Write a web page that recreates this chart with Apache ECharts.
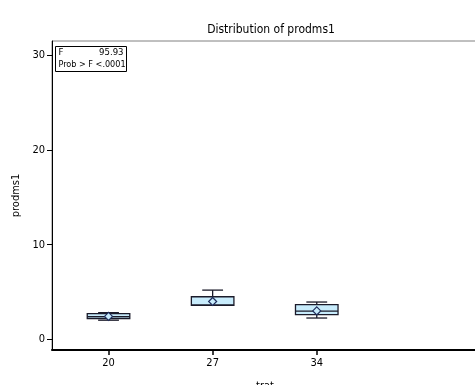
<!DOCTYPE html>
<html>
<head>
<meta charset="utf-8">
<script src="https://cdn.jsdelivr.net/npm/echarts@6/dist/echarts.min.js"></script>
<style>
  html, body { margin: 0; padding: 0; background: #fff; }
  #chart { width: 475px; height: 385px; }
</style>
</head>
<body>
<div id="chart"></div>
<script>
// values
const trat = [20, 27, 34];
const minV = [2.02, 3.6, 2.25];
const q1V = [2.2, 3.6, 2.6];
const medV = [2.4, 3.62, 2.98];
const q3V = [2.72, 4.5, 3.66];
const maxV = [2.82, 5.2, 3.94];
const meanV = [2.42, 4.0, 3.0];
const xTicks = [20, 27, 34];
const yTicks = [0, 10, 20, 30];

const font = "'Liberation Sans Narrow', 'Arial Narrow', 'DejaVu Sans Condensed', 'Liberation Sans', sans-serif";
const boxHalf = 1.43;
const capHalf = 0.7;

const chart = echarts.init(document.getElementById("chart"));

const boxData = trat.map((t, i) => [t, minV[i], q1V[i], medV[i], q3V[i], maxV[i], meanV[i]]);

const renderBox = (params, api) => {
  const x = api.value(0);
  const lineStyle = { stroke: "#1b1b2a", lineWidth: 1.3 };
  const p = (xx, yy) => api.coord([xx, yy]);
  const lo = p(x, api.value(1));
  const q1 = p(x - boxHalf, api.value(2));
  const q3 = p(x + boxHalf, api.value(4));
  const hi = p(x, api.value(5));
  const med = p(x, api.value(3));
  const mean = p(x, api.value(6));
  const capL = p(x - capHalf, 0)[0];
  const capR = p(x + capHalf, 0)[0];
  const d = 4;
  return {
    type: "group",
    children: [
      { type: "line", shape: { x1: lo[0], y1: lo[1], x2: hi[0], y2: hi[1] }, style: lineStyle },
      { type: "line", shape: { x1: capL, y1: hi[1], x2: capR, y2: hi[1] }, style: lineStyle },
      { type: "line", shape: { x1: capL, y1: lo[1], x2: capR, y2: lo[1] }, style: lineStyle },
      {
        type: "rect",
        shape: { x: q1[0], y: q3[1], width: q3[0] - q1[0], height: q1[1] - q3[1] },
        style: { fill: "#c8ecfc", stroke: "#1b1b2a", lineWidth: 1.3 },
      },
      { type: "line", shape: { x1: q1[0], y1: med[1], x2: q3[0], y2: med[1] }, style: lineStyle },
      {
        type: "polygon",
        shape: { points: [[mean[0], mean[1] - d], [mean[0] + d, mean[1]], [mean[0], mean[1] + d], [mean[0] - d, mean[1]]] },
        style: { fill: "#c8ecfc", stroke: "#1f2d5c", lineWidth: 1.2 },
      },
    ],
  };
};

const options = {
  animation: false,
  title: {
    text: "Distribution of prodms1",
    left: 266,
    textAlign: "center",
    top: 19,
    textStyle: { fontFamily: font, fontSize: 12, fontWeight: "normal", color: "#000" },
  },
  grid: {
    left: 52,
    right: -3,
    top: 41,
    bottom: 35,
    show: true,
    borderColor: "#808080",
    borderWidth: 1,
    outerBoundsMode: "none",
    containLabel: false,
  },
  xAxis: {
    type: "value",
    min: 16.2,
    max: 44.84,
    name: "trat",
    nameLocation: "middle",
    nameGap: 31,
    nameTextStyle: { fontFamily: font, fontSize: 11, color: "#000" },
    axisLine: { show: true, onZero: false, lineStyle: { color: "#000", width: 2 } },
    axisTick: { show: true, customValues: xTicks, length: 5, lineStyle: { color: "#000", width: 1.5 } },
    axisLabel: { customValues: xTicks, fontFamily: font, fontSize: 11, color: "#000", margin: 8 },
    splitLine: { show: false },
  },
  yAxis: {
    type: "value",
    min: -1.13,
    max: 31.53,
    name: "prodms1",
    nameLocation: "middle",
    nameGap: 27,
    nameTextStyle: { fontFamily: font, fontSize: 11, color: "#000" },
    axisLine: { show: true, onZero: false, lineStyle: { color: "#000", width: 1 } },
    axisTick: { show: true, customValues: yTicks, length: 5, lineStyle: { color: "#000" } },
    axisLabel: { customValues: yTicks, fontFamily: font, fontSize: 11, color: "#000", margin: 7 },
    splitLine: { show: false },
  },
  graphic: [
    {
      type: "group",
      left: 55,
      top: 46,
      children: [
        { type: "rect", shape: { x: 0, y: 0, width: 71, height: 25 }, style: { fill: "#fff", stroke: "#000", lineWidth: 1 } },
        { type: "text", style: { text: "F", x: 3, y: 6, fontFamily: font, fontSize: 9.5, fill: "#000", verticalAlign: "middle" } },
        { type: "text", style: { text: "95.93", x: 68, y: 6, fontFamily: font, fontSize: 9.5, fill: "#000", align: "right", verticalAlign: "middle" } },
        { type: "text", style: { text: "Prob > F <.0001", x: 3, y: 18, fontFamily: font, fontSize: 9, fill: "#000", verticalAlign: "middle" } },
      ],
    },
  ],
  series: [
    {
      type: "custom",
      renderItem: renderBox,
      data: boxData,
      encode: { x: 0, y: [1, 5] },
      clip: false,
    },
  ],
};

chart.setOption(options);
</script>
</body>
</html>
